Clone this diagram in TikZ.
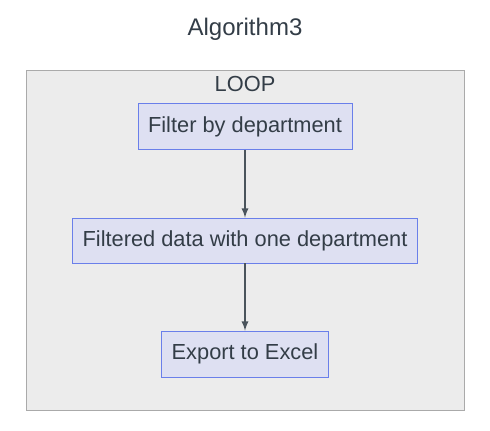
\documentclass[tikz,border=0pt]{standalone}
\usepackage{fontspec}
\setmainfont{Liberation Sans}
\definecolor{loopfill}{HTML}{ECECEC}
\definecolor{loopline}{HTML}{AAAAAA}
\definecolor{boxfill}{HTML}{DEE0F2}
\definecolor{boxline}{HTML}{6A7FEA}
\definecolor{txt}{HTML}{333D47}
\definecolor{edge}{HTML}{4A545C}
\begin{document}
\begin{tikzpicture}[x=0.5pt,y=0.5pt]

  \useasboundingbox (0,0) rectangle (490,430);

  \node[anchor=center,inner sep=-1mm] (X) at (245,0) {};

  % node styles
  \tikzstyle{Box}=[
  draw=boxline,
  fill=boxfill,
  text=txt,
  font=\fontsize{10.9}{12}\selectfont,
  align=center,
  inner xsep=5pt,
  minimum height=23pt,
  shape=rectangle]

  \tikzstyle{Label}=[text=txt,font=\fontsize{10.9}{12}\selectfont]

  \draw[draw=loopline,fill=loopfill] (26,20) rectangle (464,360);

  \draw (X) node[Label,font=\fontsize{12}{14}\selectfont] (T) at +(0,401) {Algorithm3};
  \draw (X) node[Label] (L) at +(0,346) {LOOP};

  \draw (X) node[Box] (F) at +(0,303.5) {Filter by department};
  \draw (X) node[Box,minimum height=22.5pt] (D) at +(0,189.5) {Filtered data with one department};
  \draw (X) node[Box] (E) at +(0,76) {Export to Excel};

  \draw[edge,semithick,-latex] (F) -- (D);
  \draw[edge,semithick,-latex] (D) -- (E);

\end{tikzpicture}
\end{document}
